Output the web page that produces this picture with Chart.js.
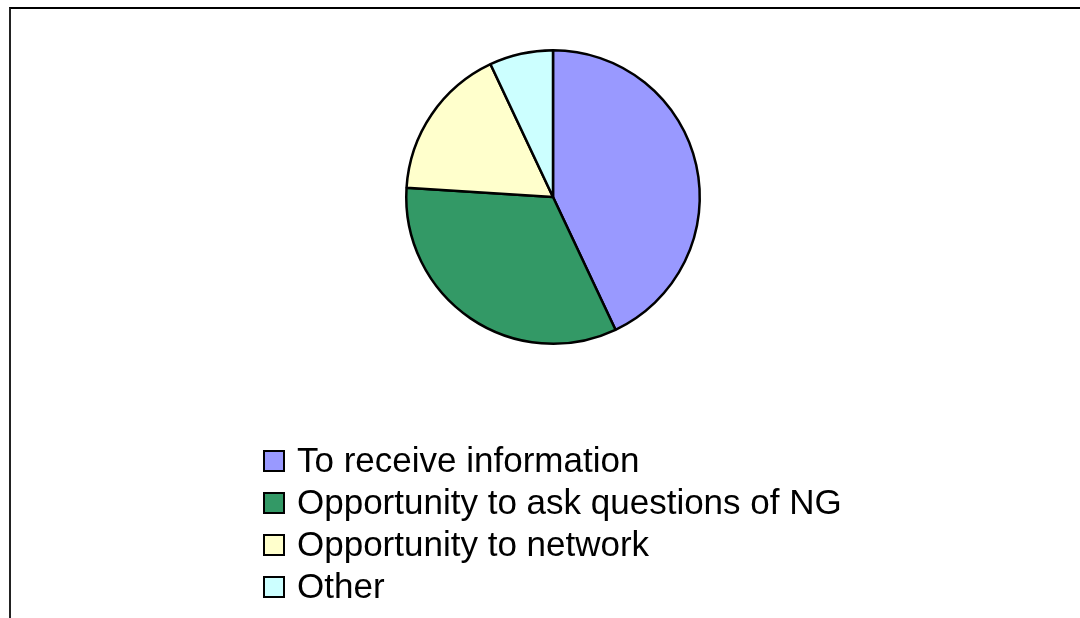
<!DOCTYPE html>
<html>
<head>
<meta charset="utf-8">
<script src="https://cdn.jsdelivr.net/npm/chart.js@4"></script>
<style>
  html, body { margin: 0; padding: 0; background: #fff; }
  #marco { position: absolute; left: 0; top: 0; width: 1080px; height: 618px; overflow: hidden; }
  #borde { position: absolute; left: 9px; top: 7px; width: 1200px; height: 800px; border-left: 2px solid #222; border-top: 2px solid #000; }
  #grafica { position: absolute; left: 0; top: 0; }
  #leyenda { position: absolute; left: 263px; top: 439px; font-family: "Liberation Sans", Arial, sans-serif; font-size: 35px; color: #000; }
  .item { height: 42px; line-height: 42px; white-space: nowrap; }
  .caja { display: inline-block; width: 18px; height: 18px; border: 2px solid #000; vertical-align: middle; margin-right: 12px; position: relative; top: -2px; }
</style>
</head>
<body>
<div id="marco">
  <div id="borde"></div>
  <canvas id="grafica" width="1080" height="618"></canvas>
  <div id="leyenda"></div>
</div>
<script>
// Datos de la gráfica
const categorias = ['To receive information', 'Opportunity to ask questions of NG', 'Opportunity to network', 'Other'];
const valores = [43, 33, 17, 7];
const colores = ['#9999FF', '#339966', '#FFFFCC', '#CCFFFF'];

// Leyenda vertical en HTML
const leyenda = document.getElementById('leyenda');
categorias.forEach((nombre, i) => {
    const fila = document.createElement('div');
    fila.className = 'item';
    const caja = document.createElement('span');
    caja.className = 'caja';
    caja.style.background = colores[i];
    fila.appendChild(caja);
    fila.appendChild(document.createTextNode(nombre));
    leyenda.appendChild(fila);
});

const ctx = document.getElementById('grafica').getContext('2d');
new Chart(ctx, {
    type: 'pie',
    data: {
        labels: categorias,
        datasets: [{
            data: valores,
            backgroundColor: colores,
            borderColor: '#000',
            borderWidth: 2.5
        }]
    },
    options: {
        responsive: false,
        animation: false,
        layout: { padding: { left: 405, right: 379, top: 49, bottom: 273 } },
        plugins: {
            legend: { display: false },
            tooltip: { enabled: false }
        }
    }
});
</script>
</body>
</html>
